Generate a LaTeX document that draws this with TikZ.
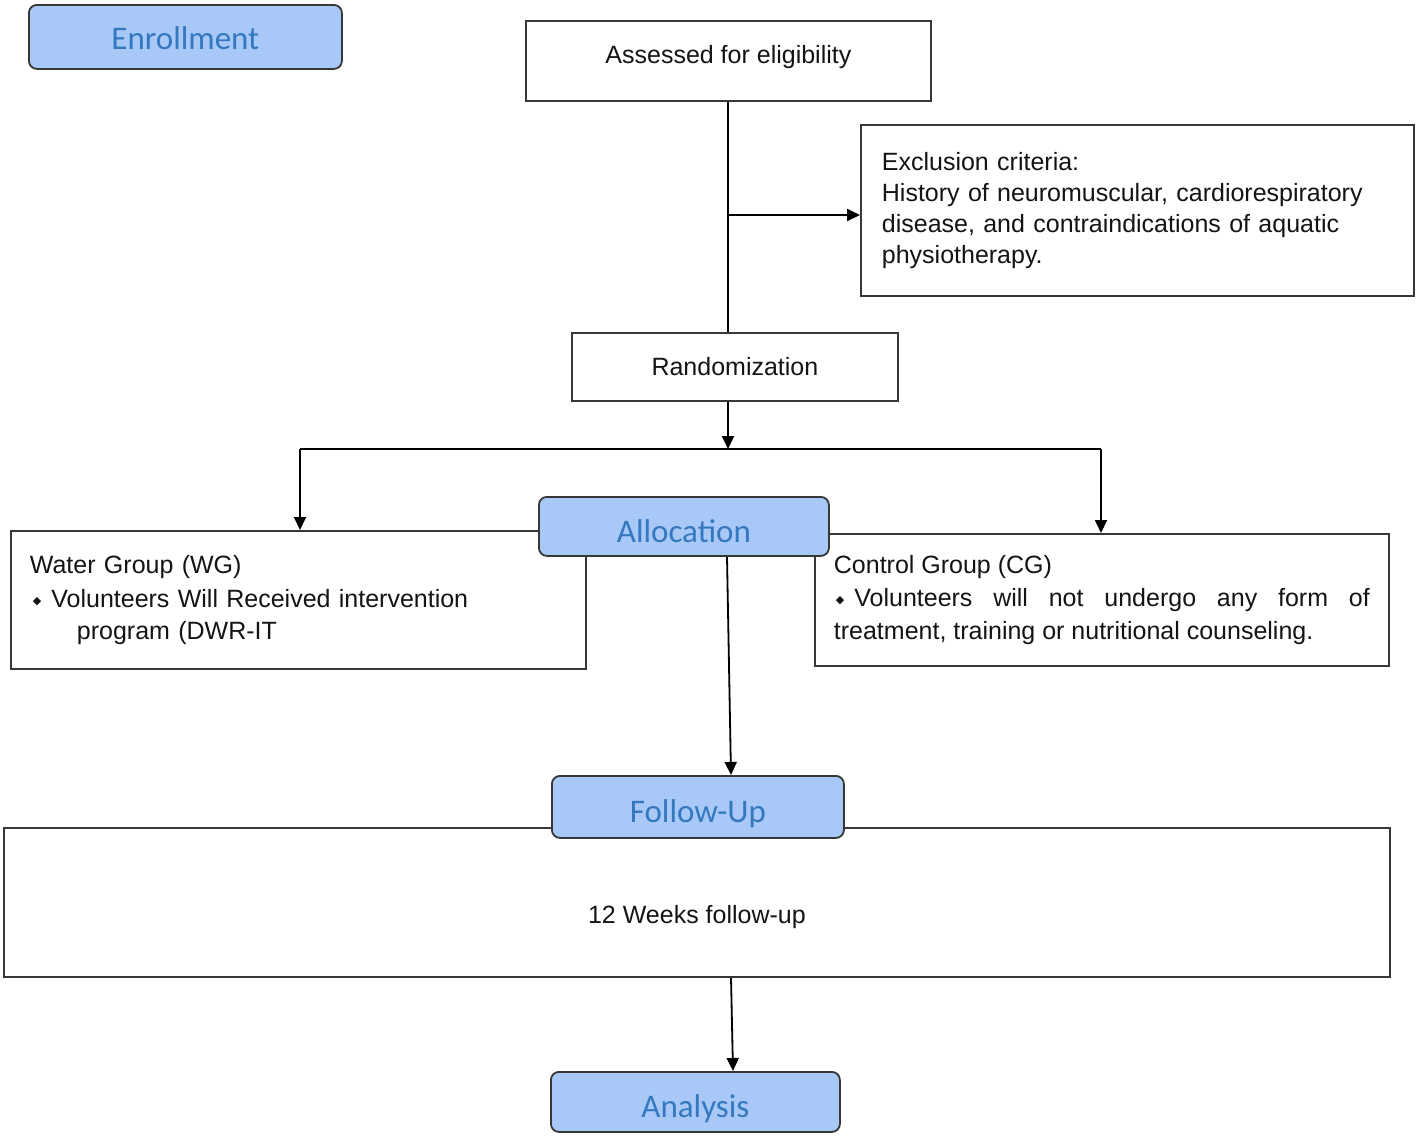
\documentclass[tikz,border=0pt]{standalone}
\usepackage{fontspec}
\setmainfont{Liberation Sans}
\newfontfamily\headfont{Carlito}
\newfontfamily\dejavu{DejaVu Sans}
\usetikzlibrary{arrows.meta}
\definecolor{hfill}{RGB}{168,200,248}
\definecolor{htext}{RGB}{52,120,190}
\definecolor{bord}{RGB}{55,55,55}
\definecolor{txt}{RGB}{20,20,20}
\newcommand{\bul}{\raisebox{3pt}{\dejavu\fontsize{11}{11}\selectfont ◆}}
\begin{document}
\begin{tikzpicture}[x=1pt,y=-1pt,
  box/.style={draw=bord, line width=1.8pt, fill=white, text=txt, anchor=north west,
    font=\fontsize{25}{31}\selectfont},
  head/.style={draw=bord, line width=1.8pt, fill=hfill, rounded corners=8pt, text=htext,
    anchor=north west, inner sep=0pt, font=\headfont\fontsize{33}{36}\selectfont},
  ln/.style={line width=1.8pt, black},
  arr/.style={line width=1.8pt, black, -{Triangle[length=13pt,width=12pt]}}]
\useasboundingbox (0,0) rectangle (1418,1136);

% enrollment
\node[head, minimum width=313pt, minimum height=64pt, text height=25pt, text depth=0pt] (enroll) at (28,4) {Enrollment};

% assessed
\node[box, minimum width=405pt, minimum height=80pt, inner sep=0pt, text height=18pt, text depth=12pt] (assess) at (525,20) {Assessed for eligibility};

% exclusion
\node[box, minimum height=171pt, inner xsep=21pt, text width=511pt, align=left] (excl) at (860,124)
  {Exclusion criteria:\\History of neuromuscular, cardiorespiratory\\disease, and contraindications of aquatic\\physiotherapy.};

% randomization
\node[box, minimum width=326pt, minimum height=68pt, inner sep=0pt] (rand) at (571,332) {Randomization};

% groups
\node[box, minimum height=138pt, inner xsep=19pt, text width=537pt, align=left,
  font=\fontsize{25}{34}\selectfont] (wg) at (10,530)
  {Water Group (WG)\\\hspace*{3pt}\bul\hspace{10pt}Volunteers Will Received intervention\\[-2pt]\hspace*{47pt}program (DWR-IT};
\node[box, minimum height=132pt, inner xsep=19pt, text width=536pt, align=justify,
  font=\fontsize{25}{33}\selectfont] (cg) at (814,533)
  {Control Group (CG)\\\hspace*{2pt}\bul\hspace{10pt}Volunteers will not undergo any form of\linebreak treatment, training or nutritional counseling.};

\node[head, minimum width=290pt, minimum height=59pt, text height=33pt, text depth=0pt] (alloc) at (538,496) {Allocation};

% follow-up
\node[box, minimum width=1386pt, minimum height=149pt, inner sep=0pt, text height=48pt, text depth=5pt] (weeks) at (3,827) {12 Weeks follow-up};
\node[head, minimum width=292pt, minimum height=62pt, text height=38pt, text depth=7pt] (fu) at (551,775) {Follow-Up};

% analysis
\node[head, minimum width=289pt, minimum height=60pt, text height=38pt, text depth=7pt] (analysis) at (550,1071) {Analysis};

% connectors
\coordinate (s1) at (728,215);
\coordinate (s2) at (728,449);
\coordinate (sl) at (300,449);
\coordinate (sr) at (1101,449);
\coordinate (a1) at (727,555);
\coordinate (a2) at (731,775);
\coordinate (b1) at (731,976);
\coordinate (b2) at (733,1071);

\draw[ln] (assess.south -| s1) -- (s1 |- rand.north);
\draw[arr] (s1) -- (s1 -| excl.west);
\draw[arr] (s1 |- rand.south) -- (s2);
\draw[ln] (sl) -- (sr);
\draw[arr] (sl) -- (sl |- wg.north);
\draw[arr] (sr) -- (sr |- cg.north);
\draw[arr] (alloc.south -| a1) -- (fu.north -| a2);
\draw[arr] (weeks.south -| b1) -- (analysis.north -| b2);
\end{tikzpicture}
\end{document}
